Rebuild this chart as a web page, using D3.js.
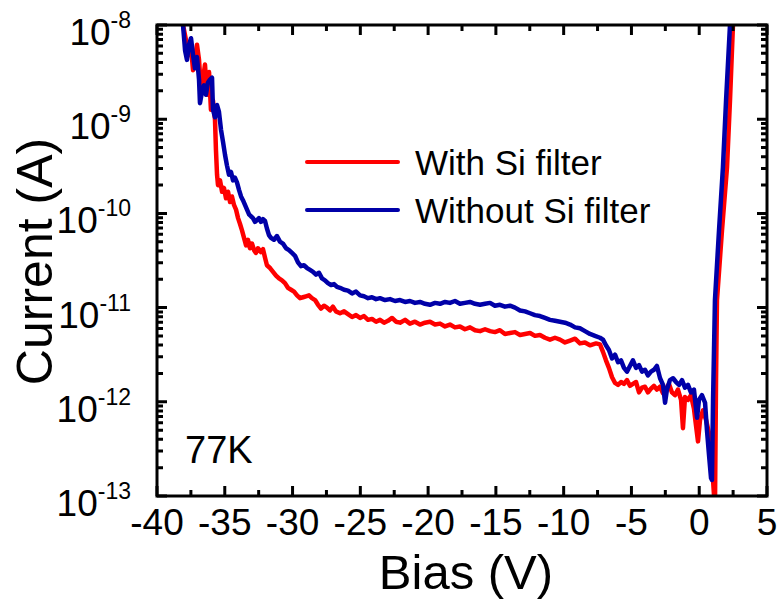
<!DOCTYPE html>
<html>
<head>
<meta charset="utf-8">
<script src="https://cdn.jsdelivr.net/npm/d3@7"></script>
<style>
  body { margin: 0; background: #fff; }
  text { font-family: "Liberation Sans", Arial, sans-serif; fill: #000; }
</style>
</head>
<body>
<svg id="chart" width="779" height="599"></svg>
<script>
// Bias (V) and log10 of current (A)
var withFilter = [[-38.08,-8.00],[-37.86,-8.16],[-37.64,-8.32],[-37.49,-8.24],[-37.34,-8.48],[-37.20,-8.35],[-37.05,-8.21],[-36.90,-8.37],[-36.75,-8.69],[-36.61,-8.58],[-36.46,-8.42],[-36.31,-8.74],[-36.16,-8.50],[-36.02,-8.90],[-35.87,-8.80],[-35.72,-9.01],[-35.65,-9.33],[-35.57,-9.59],[-35.50,-9.70],[-35.35,-9.65],[-35.20,-9.77],[-35.06,-9.73],[-34.91,-9.84],[-34.76,-9.77],[-34.61,-9.88],[-34.47,-9.82],[-34.32,-9.91],[-34.17,-9.96],[-34.02,-10.05],[-33.88,-10.11],[-33.73,-10.18],[-33.58,-10.26],[-33.43,-10.34],[-33.29,-10.28],[-33.14,-10.37],[-32.99,-10.32],[-32.84,-10.39],[-32.70,-10.42],[-32.55,-10.37],[-32.33,-10.41],[-32.18,-10.38],[-32.03,-10.47],[-31.89,-10.55],[-31.66,-10.58],[-31.44,-10.62],[-31.22,-10.66],[-31.00,-10.69],[-30.78,-10.71],[-30.56,-10.74],[-30.34,-10.79],[-30.11,-10.81],[-29.89,-10.83],[-29.67,-10.87],[-29.45,-10.90],[-29.23,-10.89],[-29.01,-10.88],[-28.79,-10.87],[-28.57,-10.90],[-28.34,-10.92],[-28.12,-10.97],[-27.90,-11.01],[-27.68,-10.98],[-27.46,-11.00],[-27.24,-11.03],[-27.02,-10.99],[-26.80,-11.04],[-26.50,-11.06],[-26.20,-11.04],[-25.91,-11.07],[-25.61,-11.10],[-25.32,-11.08],[-25.02,-11.11],[-24.73,-11.09],[-24.43,-11.13],[-24.14,-11.12],[-23.84,-11.15],[-23.55,-11.13],[-23.25,-11.16],[-22.96,-11.14],[-22.66,-11.11],[-22.37,-11.15],[-22.07,-11.16],[-21.70,-11.13],[-21.34,-11.17],[-20.97,-11.15],[-20.60,-11.18],[-20.23,-11.16],[-19.86,-11.15],[-19.49,-11.18],[-19.12,-11.17],[-18.75,-11.20],[-18.39,-11.18],[-18.02,-11.21],[-17.65,-11.20],[-17.28,-11.23],[-16.91,-11.21],[-16.54,-11.24],[-16.17,-11.25],[-15.80,-11.23],[-15.43,-11.25],[-15.07,-11.26],[-14.70,-11.24],[-14.33,-11.28],[-13.96,-11.27],[-13.59,-11.26],[-13.22,-11.29],[-12.85,-11.28],[-12.48,-11.27],[-12.12,-11.30],[-11.75,-11.29],[-11.38,-11.32],[-11.01,-11.34],[-10.64,-11.32],[-10.27,-11.34],[-9.90,-11.37],[-9.53,-11.35],[-9.16,-11.33],[-8.80,-11.38],[-8.43,-11.37],[-8.06,-11.40],[-7.84,-11.39],[-7.61,-11.38],[-7.32,-11.39],[-7.10,-11.47],[-6.88,-11.56],[-6.66,-11.64],[-6.43,-11.74],[-6.21,-11.80],[-5.99,-11.82],[-5.77,-11.79],[-5.55,-11.81],[-5.33,-11.77],[-5.11,-11.83],[-4.89,-11.81],[-4.66,-11.79],[-4.44,-11.90],[-4.22,-11.85],[-4.00,-11.84],[-3.78,-11.90],[-3.56,-11.86],[-3.34,-11.83],[-3.12,-11.87],[-2.89,-11.84],[-2.67,-11.91],[-2.45,-11.86],[-2.23,-11.81],[-2.01,-11.90],[-1.79,-11.93],[-1.57,-11.87],[-1.34,-11.98],[-1.20,-12.28],[-1.05,-11.95],[-0.83,-11.98],[-0.61,-11.93],[-0.39,-12.07],[-0.24,-12.25],[-0.09,-12.42],[0.06,-12.19],[0.28,-12.09],[0.50,-12.19],[0.72,-12.33],[0.87,-12.62],[1.02,-12.83],[1.16,-13.15],[1.24,-11.77],[1.31,-10.92],[1.68,-10.18],[2.05,-9.51],[2.27,-8.80],[2.49,-8.00]];

var withoutFilter = [[-38.08,-8.00],[-37.93,-8.27],[-37.79,-8.37],[-37.64,-8.21],[-37.49,-8.14],[-37.34,-8.32],[-37.20,-8.46],[-37.05,-8.34],[-36.90,-8.58],[-36.83,-8.83],[-36.68,-8.71],[-36.53,-8.64],[-36.39,-8.74],[-36.24,-8.61],[-36.09,-8.58],[-35.94,-8.56],[-35.87,-8.90],[-35.72,-8.98],[-35.57,-8.85],[-35.43,-8.92],[-35.28,-9.11],[-35.13,-9.24],[-34.98,-9.38],[-34.84,-9.49],[-34.69,-9.59],[-34.54,-9.56],[-34.39,-9.65],[-34.25,-9.62],[-34.10,-9.67],[-33.95,-9.75],[-33.80,-9.82],[-33.66,-9.86],[-33.51,-9.91],[-33.36,-9.96],[-33.21,-10.01],[-33.07,-10.03],[-32.92,-10.05],[-32.77,-10.09],[-32.62,-10.07],[-32.48,-10.05],[-32.33,-10.09],[-32.18,-10.06],[-32.03,-10.08],[-31.89,-10.16],[-31.74,-10.23],[-31.59,-10.26],[-31.37,-10.28],[-31.15,-10.24],[-30.93,-10.30],[-30.71,-10.32],[-30.48,-10.37],[-30.26,-10.39],[-30.04,-10.42],[-29.82,-10.45],[-29.60,-10.52],[-29.38,-10.56],[-29.16,-10.55],[-28.93,-10.58],[-28.71,-10.60],[-28.49,-10.62],[-28.27,-10.65],[-28.05,-10.63],[-27.83,-10.69],[-27.61,-10.71],[-27.39,-10.74],[-27.16,-10.76],[-26.94,-10.75],[-26.72,-10.78],[-26.50,-10.79],[-26.20,-10.81],[-25.91,-10.82],[-25.61,-10.85],[-25.32,-10.83],[-25.02,-10.87],[-24.73,-10.88],[-24.43,-10.90],[-24.14,-10.89],[-23.84,-10.91],[-23.55,-10.90],[-23.18,-10.92],[-22.81,-10.91],[-22.44,-10.93],[-22.07,-10.92],[-21.70,-10.94],[-21.34,-10.93],[-20.97,-10.95],[-20.60,-10.94],[-20.23,-10.96],[-19.86,-10.97],[-19.49,-10.95],[-19.12,-10.96],[-18.75,-10.94],[-18.39,-10.95],[-18.02,-10.93],[-17.65,-10.96],[-17.28,-10.95],[-16.91,-10.94],[-16.54,-10.96],[-16.17,-10.97],[-15.80,-10.96],[-15.43,-10.95],[-15.07,-10.98],[-14.70,-10.97],[-14.33,-10.99],[-13.96,-10.98],[-13.59,-11.00],[-13.22,-11.03],[-12.85,-11.04],[-12.48,-11.06],[-12.12,-11.08],[-11.75,-11.09],[-11.38,-11.11],[-11.01,-11.13],[-10.64,-11.14],[-10.27,-11.15],[-9.90,-11.16],[-9.53,-11.18],[-9.16,-11.21],[-8.80,-11.22],[-8.43,-11.25],[-8.06,-11.28],[-7.69,-11.30],[-7.32,-11.32],[-7.10,-11.34],[-6.88,-11.40],[-6.66,-11.45],[-6.43,-11.54],[-6.21,-11.50],[-5.99,-11.58],[-5.77,-11.56],[-5.55,-11.64],[-5.33,-11.68],[-5.11,-11.62],[-4.89,-11.56],[-4.66,-11.64],[-4.44,-11.61],[-4.22,-11.68],[-4.00,-11.66],[-3.78,-11.72],[-3.56,-11.68],[-3.34,-11.66],[-3.12,-11.62],[-2.89,-11.75],[-2.67,-11.82],[-2.52,-12.01],[-2.38,-11.87],[-2.16,-11.77],[-1.93,-11.75],[-1.71,-11.79],[-1.49,-11.82],[-1.27,-11.77],[-1.05,-11.85],[-0.83,-11.82],[-0.61,-11.90],[-0.39,-11.87],[-0.16,-12.17],[-0.02,-11.98],[0.20,-11.93],[0.43,-12.01],[0.57,-12.30],[0.72,-12.56],[0.87,-12.81],[0.94,-12.83],[1.02,-11.98],[1.09,-11.45],[1.16,-10.92],[1.46,-10.18],[1.75,-9.51],[1.98,-8.80],[2.27,-8.00]];

var seriesNames = ["With Si filter", "Without Si filter"];
var seriesColors = ["#ff0000", "#0000a8"];
var xTicks = [-40, -35, -30, -25, -20, -15, -10, -5, 0, 5];
var yExponents = [-13, -12, -11, -10, -9, -8];

var svg = d3.select("#chart");
var margin = { top: 25, right: 12, bottom: 103, left: 157 };
var width = 779 - margin.left - margin.right;
var height = 599 - margin.top - margin.bottom;

var x = d3.scaleLinear().domain([-40, 5]).range([0, width]);
var y = d3.scaleLog().domain([1e-13, 1e-8]).range([height, 0]);

var g = svg.append("g")
    .attr("transform", "translate(" + margin.left + "," + margin.top + ")");

g.append("clipPath").attr("id", "clip")
    .append("rect").attr("width", width).attr("height", height);

// minor ticks: every 2.5 V and 2..9 per decade
var xMinor = d3.range(-37.5, 5, 5);
var yMinor = [];
yExponents.slice(0, -1).forEach(function (e) {
    for (var k = 2; k <= 9; k++) yMinor.push(k * Math.pow(10, e));
});
var yMajor = yExponents.map(function (e) { return Math.pow(10, e); });

// curves
var line = d3.line()
    .x(function (d) { return x(d[0]); })
    .y(function (d) { return y(Math.pow(10, d[1])); });

[withFilter, withoutFilter].forEach(function (s, i) {
    g.append("path")
        .datum(s)
        .attr("clip-path", "url(#clip)")
        .attr("fill", "none")
        .attr("stroke", seriesColors[i])
        .attr("stroke-width", 4.5)
        .attr("stroke-linejoin", "round")
        .attr("d", line);
});

// frame
g.append("rect")
    .attr("width", width).attr("height", height)
    .attr("fill", "none").attr("stroke", "#000").attr("stroke-width", 3);

// inward ticks on all four sides, built as one path
var tickPath = "";
xTicks.forEach(function (d) {
    tickPath += "M" + x(d) + "," + height + "v-10M" + x(d) + ",0v10";
});
xMinor.forEach(function (d) {
    tickPath += "M" + x(d) + "," + height + "v-6M" + x(d) + ",0v6";
});
yMajor.forEach(function (d) {
    tickPath += "M0," + y(d) + "h10M" + width + "," + y(d) + "h-10";
});
yMinor.forEach(function (d) {
    tickPath += "M0," + y(d) + "h6M" + width + "," + y(d) + "h-6";
});
g.append("path")
    .attr("d", tickPath)
    .attr("fill", "none")
    .attr("stroke", "#000")
    .attr("stroke-width", 3);

// x tick labels
g.selectAll(".xlab")
    .data(xTicks)
    .enter().append("text")
    .attr("x", function (d) { return x(d); })
    .attr("y", height + 39)
    .attr("text-anchor", "middle")
    .style("font-size", "37px")
    .text(function (d) { return d; });

// y tick labels 10^n
var ylab = g.selectAll(".ylab")
    .data(yExponents)
    .enter().append("text")
    .attr("x", -26)
    .attr("y", function (d) { return y(Math.pow(10, d)) + 20; })
    .attr("text-anchor", "end")
    .style("font-size", "37px");
ylab.append("tspan").text("10");
ylab.append("tspan")
    .attr("dy", -17)
    .style("font-size", "23px")
    .text(function (d) { return "-" + Math.abs(d); });

// axis titles
svg.append("text")
    .attr("x", 466)
    .attr("y", 589)
    .attr("text-anchor", "middle")
    .style("font-size", "49px")
    .text("Bias (V)");

svg.append("text")
    .attr("transform", "translate(52," + (margin.top + height / 2 + 1) + ") rotate(-90)")
    .attr("text-anchor", "middle")
    .style("font-size", "50px")
    .text("Current (A)");

// legend
var legend = svg.selectAll(".legend")
    .data(seriesNames)
    .enter().append("g")
    .attr("class", "legend")
    .attr("transform", function (d, i) { return "translate(0," + i * 48 + ")"; });

legend.append("line")
    .attr("x1", 307).attr("x2", 398)
    .attr("y1", 162).attr("y2", 162)
    .attr("stroke", function (d, i) { return seriesColors[i]; })
    .attr("stroke-width", 4)
    .attr("stroke-linecap", "round");

legend.append("text")
    .attr("x", 415)
    .attr("y", 175)
    .style("font-size", "35px")
    .text(function (d) { return d; });

svg.append("text")
    .attr("x", 185)
    .attr("y", 463)
    .style("font-size", "38px")
    .text("77K");
</script>
</body>
</html>
